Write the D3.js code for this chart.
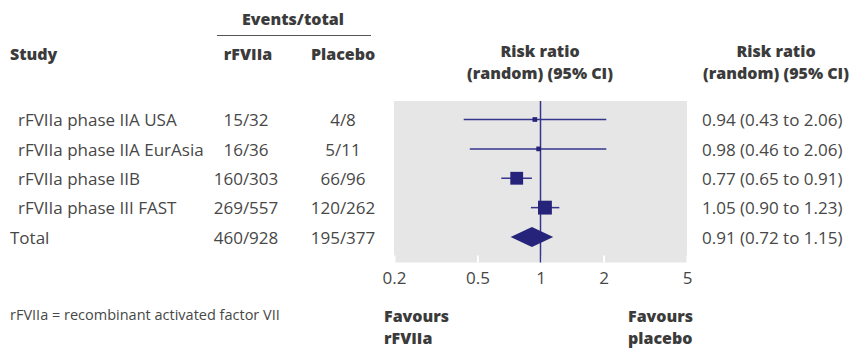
<!DOCTYPE html>
<html>
<head>
<meta charset="utf-8">
<script src="https://cdn.jsdelivr.net/npm/d3@7"></script>
<style>
  body { margin: 0; background: #fff; }
  text { font-family: "Open Sans", "Noto Sans", sans-serif; fill: #474747; }
  .hd { font-weight: 800; fill: #3b3b3b; font-size: 16px; }
  .row { font-size: 17px; }
</style>
</head>
<body>
<div id="chart"></div>
<script>
// Data
const studies = ["rFVIIa phase IIA USA", "rFVIIa phase IIA EurAsia", "rFVIIa phase IIB", "rFVIIa phase III FAST"];
const treatEvents = ["15/32", "16/36", "160/303", "269/557"];
const ctrlEvents = ["4/8", "5/11", "66/96", "120/262"];
const rr = [0.94, 0.98, 0.77, 1.05];
const rrLow = [0.43, 0.46, 0.65, 0.90];
const rrHigh = [2.06, 2.06, 0.91, 1.23];
const weights = [5.5, 5.5, 41, 48];

const total = {label: "Total", treat: "460/928", ctrl: "195/377", rr: 0.91, low: 0.72, high: 1.15};
const axisTicks = [0.2, 0.5, 1, 2, 5];

const width = 852, height = 348;
const svg = d3.select("#chart")
    .append("svg")
        .attr("width", width)
        .attr("height", height);

// Scales
const x = d3.scaleLog()
    .domain([0.2, 5])
    .range([394, 687]);

const rowNames = studies.concat([total.label]);
const y = d3.scalePoint()
    .domain(rowNames)
    .range([119.5, 237]);

const boxSize = d3.scaleSqrt()
    .domain([0, 100])
    .range([0, 20]);

const fmt = d3.format(".2f");
const ink = "#25247a", lineInk = "#36358e";

// Column headers
svg.append("text").attr("class", "hd")
    .attr("x", 293).attr("y", 25)
    .attr("text-anchor", "middle")
    .text("Events/total");

svg.append("line")
    .attr("x1", 217).attr("x2", 371)
    .attr("y1", 35.5).attr("y2", 35.5)
    .attr("stroke", "#555").attr("stroke-width", 1);

svg.append("text").attr("class", "hd")
    .attr("x", 10).attr("y", 60)
    .text("Study");

svg.append("text").attr("class", "hd")
    .attr("x", 248).attr("y", 60)
    .attr("text-anchor", "middle")
    .text("rFVIIa");

svg.append("text").attr("class", "hd")
    .attr("x", 343).attr("y", 60)
    .attr("text-anchor", "middle")
    .text("Placebo");

// two-line headers
[540, 776].forEach(function(cx) {
    const t = svg.append("text").attr("class", "hd")
        .attr("x", cx).attr("y", 57)
        .attr("text-anchor", "middle");
    t.append("tspan").attr("x", cx).text("Risk ratio");
    t.append("tspan").attr("x", cx).attr("dy", 22).text("(random) (95% CI)");
});

// Plot panel
svg.append("rect")
    .attr("x", x(0.2)).attr("y", 101)
    .attr("width", x(5) - x(0.2))
    .attr("height", 161.5)
    .attr("fill", "#e6e6e6");

// Axis
const axis = svg.append("g")
    .attr("transform", "translate(0,262.5)")
    .call(d3.axisBottom(x)
        .tickValues(axisTicks)
        .tickFormat(d3.format("~g"))
        .tickSize(-7)
        .tickPadding(9));
axis.select(".domain").remove();
axis.selectAll(".tick line").attr("stroke", "#fff").attr("stroke-width", 2);
axis.selectAll(".tick text")
    .style("font-family", "\"Open Sans\", sans-serif")
    .style("font-size", "17px")
    .attr("fill", "#474747");

// Line of no effect
svg.append("line")
    .attr("x1", x(1)).attr("x2", x(1))
    .attr("y1", 101).attr("y2", 262.5)
    .attr("stroke", lineInk).attr("stroke-width", 1.5);

// Study rows
studies.forEach(function(s, i) {
    const cy = y(s);
    svg.append("text").attr("class", "row")
        .attr("x", 18).attr("y", cy).attr("dy", "0.4em")
        .text(s);
    svg.append("text").attr("class", "row")
        .attr("x", 246).attr("y", cy).attr("dy", "0.4em")
        .attr("text-anchor", "middle")
        .text(treatEvents[i]);
    svg.append("text").attr("class", "row")
        .attr("x", 343).attr("y", cy).attr("dy", "0.4em")
        .attr("text-anchor", "middle")
        .text(ctrlEvents[i]);

    svg.append("line")
        .attr("x1", x(rrLow[i])).attr("x2", x(rrHigh[i]))
        .attr("y1", cy).attr("y2", cy)
        .attr("stroke", lineInk).attr("stroke-width", 1.5);

    const b = boxSize(weights[i]);
    svg.append("rect")
        .attr("x", x(rr[i]) - b / 2).attr("y", cy - b / 2)
        .attr("width", b).attr("height", b)
        .attr("fill", ink);

    svg.append("text").attr("class", "row")
        .attr("x", 702).attr("y", cy).attr("dy", "0.4em")
        .text(`${fmt(rr[i])} (${fmt(rrLow[i])} to ${fmt(rrHigh[i])})`);
});

// Total row
const ty = y(total.label);
svg.append("text").attr("class", "row")
    .attr("x", 10).attr("y", ty).attr("dy", "0.4em")
    .text(total.label);
svg.append("text").attr("class", "row")
    .attr("x", 246).attr("y", ty).attr("dy", "0.4em")
    .attr("text-anchor", "middle")
    .text(total.treat);
svg.append("text").attr("class", "row")
    .attr("x", 343).attr("y", ty).attr("dy", "0.4em")
    .attr("text-anchor", "middle")
    .text(total.ctrl);
svg.append("path")
    .attr("d", d3.line()([
        [x(total.low), ty], [x(total.rr), ty - 10],
        [x(total.high), ty], [x(total.rr), ty + 10]
    ]) + "Z")
    .attr("fill", ink);
svg.append("text").attr("class", "row")
    .attr("x", 702).attr("y", ty).attr("dy", "0.4em")
    .text(`${fmt(total.rr)} (${fmt(total.low)} to ${fmt(total.high)})`);

// Footer
svg.append("text")
    .attr("x", 10).attr("y", 320)
    .style("font-size", "14.5px")
    .text("rFVIIa = recombinant activated factor VII");

[["Favours", "rFVIIa", 384], ["Favours", "placebo", 628]].forEach(function(f) {
    const t = svg.append("text").attr("class", "hd")
        .attr("x", f[2]).attr("y", 322);
    t.append("tspan").attr("x", f[2]).text(f[0]);
    t.append("tspan").attr("x", f[2]).attr("dy", 22).text(f[1]);
});
</script>
</body>
</html>
